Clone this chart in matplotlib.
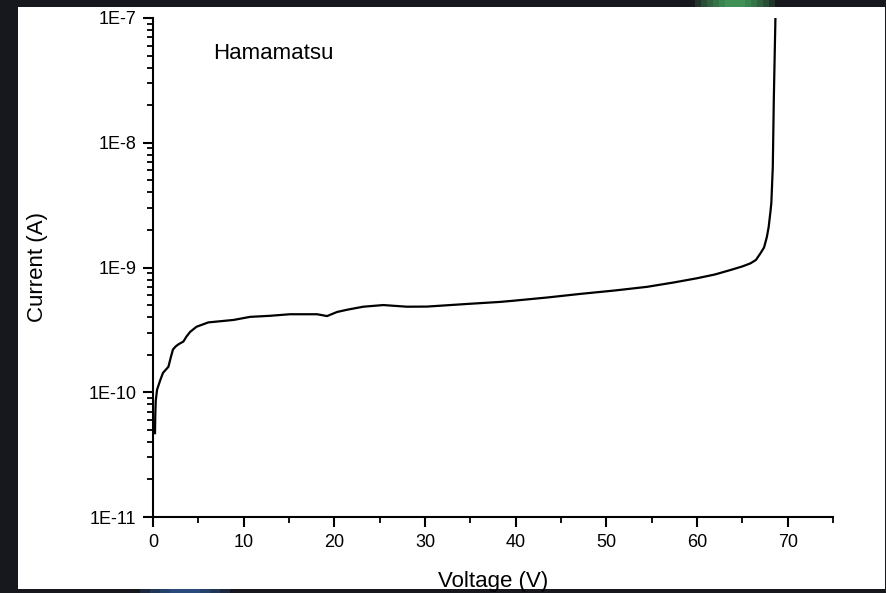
import matplotlib.pyplot as plt
from matplotlib.patches import Rectangle
from matplotlib.ticker import LogLocator, MultipleLocator, FixedLocator
import numpy as np

plt.rcParams['font.family'] = ['Liberation Sans', 'DejaVu Sans']

# I-V curve
voltage = [0.22, 0.25, 0.30, 0.45, 0.8, 1.1, 1.7, 2.0, 2.2, 2.5, 2.8, 3.35, 3.7, 4.1,
           4.8, 6.1, 8.9, 10.7, 12.9, 15.1, 18.1, 19.2, 20.3, 21.5, 23.2, 25.4, 28.0,
           30.2, 34.6, 38.3, 39.8, 43.5, 47.1, 51.0, 54.5, 57.5, 60.0, 62.0, 63.7,
           65.0, 65.9, 66.5, 67.0, 67.4, 67.7, 67.9, 68.1, 68.2, 68.3, 68.36, 68.47,
           68.65]
current = [4.7e-11, 6.5e-11, 8.5e-11, 1.05e-10, 1.25e-10, 1.43e-10, 1.6e-10, 1.95e-10,
           2.2e-10, 2.33e-10, 2.42e-10, 2.55e-10, 2.8e-10, 3.05e-10, 3.35e-10, 3.63e-10,
           3.8e-10, 4.02e-10, 4.1e-10, 4.22e-10, 4.22e-10, 4.08e-10, 4.4e-10, 4.6e-10,
           4.85e-10, 5.0e-10, 4.85e-10, 4.86e-10, 5.1e-10, 5.3e-10, 5.42e-10, 5.75e-10,
           6.14e-10, 6.55e-10, 7.0e-10, 7.6e-10, 8.2e-10, 8.8e-10, 9.55e-10, 1.02e-9,
           1.08e-9, 1.15e-9, 1.3e-9, 1.45e-9, 1.75e-9, 2.1e-9, 2.8e-9, 3.3e-9, 5e-9,
           6.4e-9, 2.2e-8, 1e-7]

x_ticks = [0, 10, 20, 30, 40, 50, 60, 70]
y_ticks = [1e-11, 1e-10, 1e-9, 1e-8, 1e-7]
y_labels = ['1E-11', '1E-10', '1E-9', '1E-8', '1E-7']

W, H = 887, 593
fig = plt.figure(figsize=(W / 100, H / 100), dpi=100)
fig.patch.set_facecolor('#17171e')


def fig_rect(x, y, w, h, color, alpha=1.0, z=0):
    # rectangle in pixel units, y measured from the top
    fig.patches.append(Rectangle((x / W, 1 - (y + h) / H), w / W, h / H,
                                 transform=fig.transFigure, facecolor=color,
                                 edgecolor='none', alpha=alpha, zorder=z))


# slide-like glows behind the white panel
for i in range(6):
    fig_rect(695 + i * 6, 0, 80 - i * 12, 7, '#5be07a', 0.15)
for i in range(4):
    fig_rect(140 + i * 10, 589, 90 - i * 20, 4, '#3a6fc0', 0.2)
fig_rect(18, 7, 867, 582, 'white', 1.0, 1)

ax = fig.add_axes([153 / W, 1 - 517 / H, 680 / W, 499 / H])
ax.set_facecolor('none')
ax.set_zorder(2)

ax.plot(voltage, current, color='black', linewidth=1.6)

ax.set_yscale('log')
ax.set_xlim(0, 75)
ax.set_ylim(1e-11, 1e-7)

ax.xaxis.set_major_locator(FixedLocator(x_ticks))
ax.xaxis.set_minor_locator(MultipleLocator(5))
ax.yaxis.set_major_locator(FixedLocator(y_ticks))
ax.set_yticklabels(y_labels)
ax.yaxis.set_minor_locator(LogLocator(base=10, subs=np.arange(2, 10)))

for s in ['top', 'right']:
    ax.spines[s].set_visible(False)
for s in ['left', 'bottom']:
    ax.spines[s].set_linewidth(1.5)

ax.tick_params(which='major', direction='out', length=7, width=1.5,
               labelsize=13, pad=5)
ax.tick_params(which='minor', direction='out', length=4, width=1.3)

ax.set_xlabel('Voltage (V)', fontsize=16, labelpad=15)
ax.set_ylabel('Current (A)', fontsize=16, labelpad=29)

ax.text(6.6, 5.2e-8, 'Hamamatsu', fontsize=16, va='center', ha='left')

fig.savefig('out.png', dpi=100, facecolor=fig.get_facecolor())
